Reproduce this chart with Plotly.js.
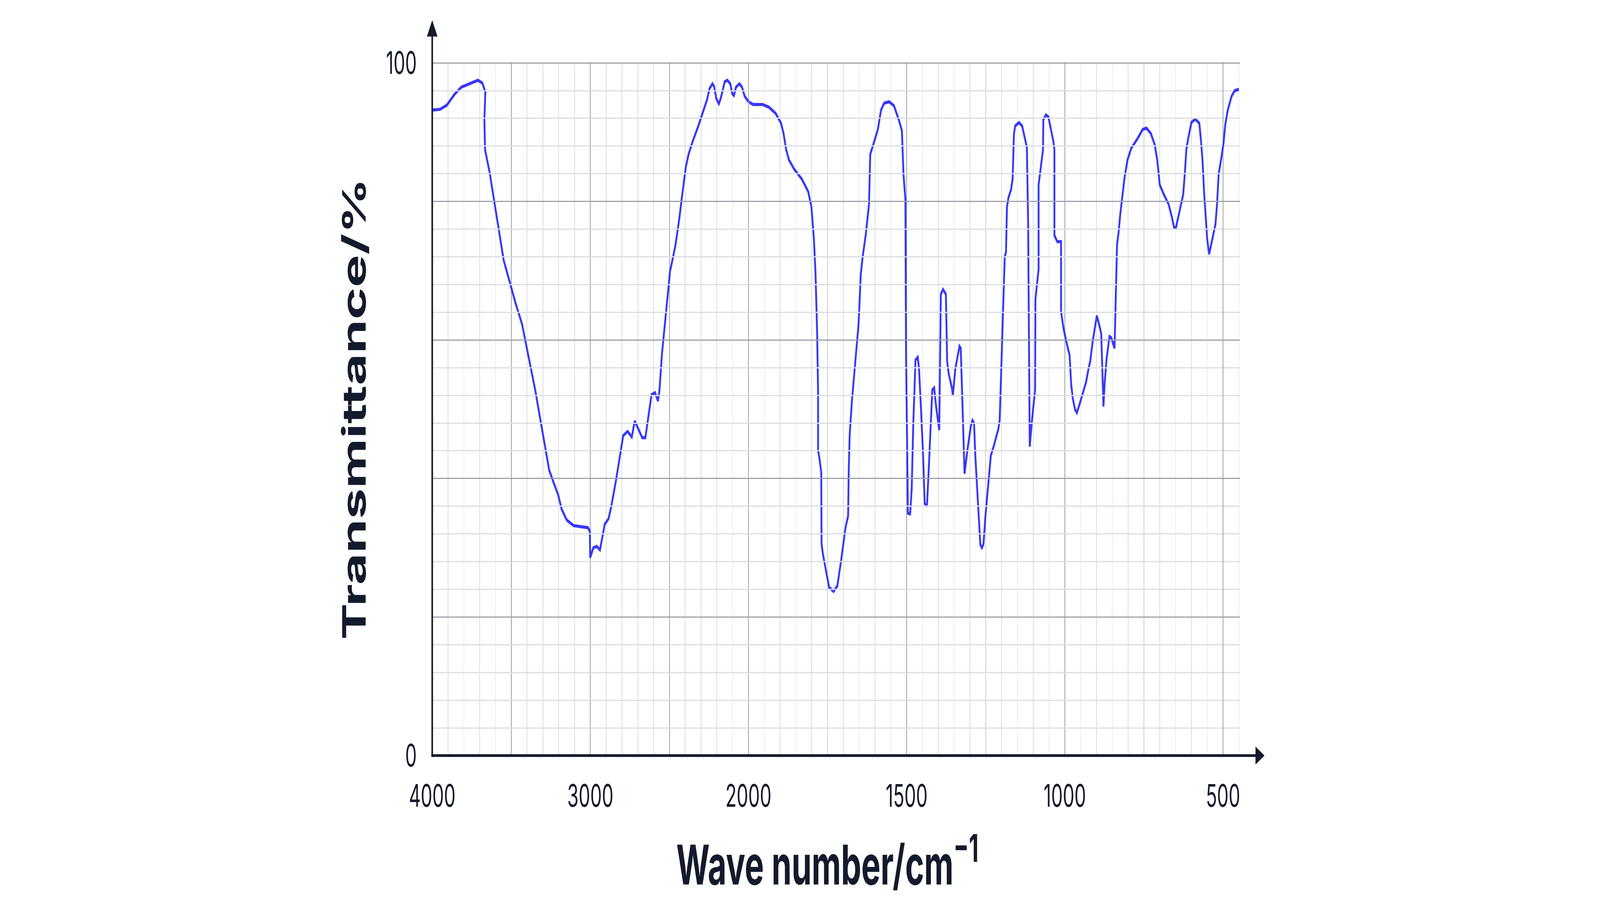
<!DOCTYPE html>
<html>
<head>
<meta charset="utf-8">
<script src="https://cdn.plot.ly/plotly-3.0.1.min.js"></script>
<style>
  html, body { margin: 0; padding: 0; background: #fff; overflow: hidden; }
  #chart { width: 6952px; height: 2360px; transform-origin: 0 0; }
</style>
</head>
<body>
<div id="chart"></div>
<script>
// IR spectrum
const waveNumber = [
  4000, 3951, 3908, 3858, 3816, 3758, 3711, 3683, 3664, 3670, 3666, 3637, 3607, 3573, 3548, 3515,
  3474, 3432, 3390, 3348, 3323, 3298, 3274, 3260, 3232, 3203, 3182, 3149, 3106, 3015, 3003, 3001,
  2981, 2959, 2939, 2923, 2909, 2885, 2869, 2838, 2813, 2792, 2764, 2738, 2719, 2697, 2672, 2652,
  2638, 2613, 2591, 2572, 2563, 2547, 2521, 2496, 2463, 2438, 2421, 2396, 2379, 2354, 2320, 2287,
  2262, 2246, 2228, 2217, 2204, 2187, 2174, 2150, 2134, 2115, 2103, 2092, 2079, 2057, 2041, 2024,
  2000, 1985, 1955, 1935, 1914, 1897, 1889, 1881, 1872, 1856, 1831, 1811, 1801, 1793, 1788, 1783,
  1780, 1780, 1775, 1770, 1769, 1765, 1755, 1745, 1731, 1719, 1708, 1693, 1685, 1683, 1680, 1673,
  1662, 1652, 1645, 1639, 1629, 1619, 1615, 1606, 1591, 1581, 1571, 1555, 1540, 1525, 1515, 1510,
  1504, 1502, 1496, 1489, 1484, 1479, 1472, 1465, 1461, 1455, 1448, 1443, 1436, 1431, 1424, 1419,
  1413, 1407, 1397, 1392, 1385, 1376, 1372, 1367, 1357, 1354, 1346, 1333, 1329, 1325, 1317, 1308,
  1297, 1292, 1287, 1283, 1278, 1273, 1267, 1262, 1257, 1251, 1246, 1239, 1234, 1224, 1210, 1206,
  1202, 1198, 1193, 1190, 1186, 1183, 1178, 1170, 1165, 1161, 1157, 1145, 1135, 1124, 1120, 1116,
  1111, 1104, 1094, 1093, 1087, 1083, 1083, 1078, 1072, 1069, 1068, 1060, 1052, 1044, 1036, 1033,
  1033, 1024, 1012, 1012, 1004, 992, 985, 980, 975, 968, 962, 953, 943, 933, 925, 920,
  912, 904, 899, 892, 885, 878, 874, 868, 859, 853, 846, 843, 835, 830, 825, 820,
  812, 802, 790, 770, 754, 742, 728, 716, 708, 704, 700, 687, 672, 662, 655, 649,
  638, 626, 621, 616, 611, 600, 588, 575, 570, 565, 560, 555, 550, 544, 534, 524,
  519, 514, 505, 498, 493, 485, 473, 463, 450
];
const transmittance = [
  93.2, 93.3, 93.9, 95.5, 96.5, 97.1, 97.5, 97.1, 95.8, 91.8, 87.5, 84.2, 80.0, 75.3, 71.5, 68.8,
  65.4, 62.3, 57.6, 52.7, 49.4, 46.2, 42.9, 41.2, 39.4, 37.6, 35.6, 34.0, 33.2, 32.9, 32.4, 28.6,
  30.0, 30.2, 29.7, 31.6, 33.4, 34.2, 35.8, 39.7, 43.1, 46.2, 46.8, 46.0, 48.3, 47.2, 45.9, 45.9,
  48.3, 52.1, 52.4, 51.2, 52.7, 58.0, 64.1, 69.9, 73.5, 77.4, 80.6, 85.0, 86.8, 88.6, 90.7, 92.9,
  94.7, 96.3, 97.0, 96.6, 94.9, 94.1, 95.0, 97.3, 97.5, 97.0, 95.6, 95.3, 96.5, 97.0, 96.5, 95.2,
  94.4, 94.0, 94.0, 93.6, 92.7, 91.3, 89.8, 87.5, 86.0, 84.7, 83.2, 81.4, 79.2, 74.5, 69.5, 61.2,
  52.7, 44.1, 42.7, 40.9, 30.6, 29.2, 26.7, 24.3, 23.7, 24.5, 27.9, 33.0, 34.6, 41.3, 46.4, 51.2,
  57.0, 62.3, 69.5, 72.0, 75.3, 79.6, 86.8, 88.2, 90.4, 93.2, 94.2, 94.4, 93.8, 91.8, 90.2, 83.9,
  80.3, 58.3, 35.0, 34.9, 38.5, 48.0, 57.1, 57.5, 55.9, 50.4, 43.3, 36.4, 36.0, 40.5, 47.6, 52.8,
  53.1, 50.4, 47.0, 66.6, 67.3, 66.6, 56.9, 55.1, 53.1, 52.0, 55.9, 59.1, 58.8, 52.7, 40.7, 44.1,
  47.6, 48.4, 48.0, 43.3, 39.3, 34.6, 30.4, 30.0, 30.6, 34.6, 37.3, 41.3, 43.3, 44.8, 47.2, 48.4,
  54.4, 58.3, 65.9, 72.0, 72.7, 79.2, 80.6, 81.7, 83.3, 89.7, 90.9, 91.4, 90.9, 88.6, 87.8, 76.7,
  44.6, 48.4, 52.8, 65.9, 68.8, 70.2, 82.4, 84.2, 86.0, 87.5, 91.8, 92.5, 92.2, 90.4, 88.6, 87.5,
  75.1, 74.2, 74.2, 64.1, 61.6, 59.1, 57.8, 53.6, 51.6, 50.0, 49.5, 50.8, 52.4, 53.9, 55.9, 56.9,
  59.8, 62.3, 63.5, 62.3, 60.9, 50.4, 53.9, 57.3, 60.5, 60.3, 59.1, 58.8, 73.8, 75.6, 78.1, 80.3,
  83.2, 86.0, 87.7, 89.1, 90.4, 90.6, 89.8, 88.2, 86.0, 84.2, 82.4, 81.0, 79.6, 77.8, 76.3, 76.2,
  78.5, 81.0, 83.9, 87.5, 88.9, 91.4, 91.9, 91.3, 88.9, 86.0, 81.4, 77.8, 74.5, 72.4, 74.4, 76.7,
  79.6, 83.9, 86.4, 88.6, 91.1, 93.2, 95.2, 96.0, 96.2
];
const xTitle = 'Wave number/cm<sup>−1</sup>';
const yTitle = 'Transmittance/%';

// the chart is laid out at 6952x2360 and squeezed to whatever window we really get
const W = 6952, H = 2360;
const chartDiv = document.getElementById('chart');
const sx = (window.innerWidth || W) / W, sy = (window.innerHeight || H) / H;
if (Math.abs(sx - 1) > 0.001 || Math.abs(sy - 1) > 0.001) {
  chartDiv.style.transform = `scale(${sx}, ${sy})`;
}

// geometry (px)
const plotL = 1878, plotB = 1934, y100 = 160.7;
const pxHi = (3252 - 1878) / 2000;      // px per cm-1 above 2000
const pxLo = (5314 - 3252) / 1500;      // px per cm-1 below 2000 (scale doubles)
const yMax = 100.12;
const plotT = plotB - yMax * (plotB - y100) / 100;
const splitPx = plotL + (4000 - 1996) * pxHi;
const x2Start = 2000 - (splitPx - 3252) / pxLo;
const plotR = 3252 + (2000 - 447) * pxLo;
const PW = plotR - plotL, PH = plotB - plotT;
const px = v => (v - plotL) / PW;
const py = v => (plotB - v) / PH;

const ink = '#131a2b';
const blue = 'rgba(40, 40, 250, 0.93)';
const majorC = '#9fa1a8';
const minorC = '#dcdde1';

const hiX = [], hiY = [], loX = [], loY = [];
waveNumber.forEach((w, i) => {
  if (w >= 2000) { hiX.push(w); hiY.push(transmittance[i]); }
  if (w <= 2000) { loX.push(w); loY.push(transmittance[i]); }
});

const lineStyle = { color: blue, width: 8, shape: 'linear' };
const traces = [
  { x: hiX, y: hiY, xaxis: 'x', yaxis: 'y', mode: 'lines', line: lineStyle, hoverinfo: 'skip' },
  { x: loX, y: loY, xaxis: 'x2', yaxis: 'y', mode: 'lines', line: lineStyle, hoverinfo: 'skip' },
  // carries the shared x title only
  { x: [], y: [], xaxis: 'x3', yaxis: 'y', mode: 'lines', hoverinfo: 'skip' }
];

const tickFont = { family: 'Inter, sans-serif', size: 80, color: ink };
const titleFont = { family: 'Inter, sans-serif', size: 140, color: ink, weight: 700 };

function xAxis(domain, range, dtick, minorStep) {
  return {
    domain: domain, range: range, anchor: 'y',
    tickmode: 'linear', tick0: 0, dtick: dtick, ticklabelstep: 2,
    ticks: '', ticklabelstandoff: 50, tickfont: tickFont,
    showgrid: true, gridcolor: majorC, gridwidth: 3,
    minor: { dtick: minorStep, showgrid: true, gridcolor: minorC, gridwidth: 3, ticks: '' },
    showline: false, zeroline: false, fixedrange: true
  };
}

const layout = {
  width: W, height: H,
  margin: { l: plotL, r: W - plotR, t: plotT, b: H - plotB, pad: 0 },
  paper_bgcolor: '#ffffff', plot_bgcolor: 'rgba(0,0,0,0)',
  showlegend: false,
  xaxis: xAxis([0, px(splitPx)], [4000, 1996], 500, 100),
  xaxis2: xAxis([px(splitPx), 1], [x2Start, 447], 250, 50),
  xaxis3: {
    domain: [0, 0.9787], range: [0, 1], anchor: 'y',
    showticklabels: false, ticks: '', showgrid: false, zeroline: false, showline: false,
    fixedrange: true,
    title: { text: xTitle, font: titleFont, standoff: 232 }
  },
  yaxis: {
    range: [0, yMax], tickmode: 'linear', tick0: 0, dtick: 20, ticklabelstep: 5,
    ticks: '', ticklabelstandoff: 66, tickfont: tickFont,
    showgrid: true, gridcolor: majorC, gridwidth: 3,
    minor: { dtick: 4, showgrid: true, gridcolor: minorC, gridwidth: 3, ticks: '' },
    showline: false, zeroline: false, fixedrange: true,
    title: { text: yTitle, font: titleFont, standoff: 40 }
  },
  shapes: [
    { type: 'line', xref: 'paper', yref: 'paper', x0: 0, x1: 0, y0: py(plotB + 3.5), y1: py(90),
      line: { color: ink, width: 7 }, layer: 'above' },
    { type: 'path', xref: 'paper', yref: 'paper', layer: 'above', fillcolor: ink, line: { width: 0 },
      path: `M ${px(plotL)},${py(51)} L ${px(plotL - 23)},${py(93)} L ${px(plotL + 23)},${py(93)} Z` },
    { type: 'line', xref: 'paper', yref: 'paper', x0: px(plotL - 3.5), x1: px(5458), y0: 0, y1: 0,
      line: { color: ink, width: 7 }, layer: 'above' },
    { type: 'path', xref: 'paper', yref: 'paper', layer: 'above', fillcolor: ink, line: { width: 0 },
      path: `M ${px(5494)},${py(plotB)} L ${px(5455)},${py(plotB - 23)} L ${px(5455)},${py(plotB + 23)} Z` }
  ]
};

Plotly.newPlot('chart', traces, layout, { staticPlot: true, displayModeBar: false });
</script>
</body>
</html>
